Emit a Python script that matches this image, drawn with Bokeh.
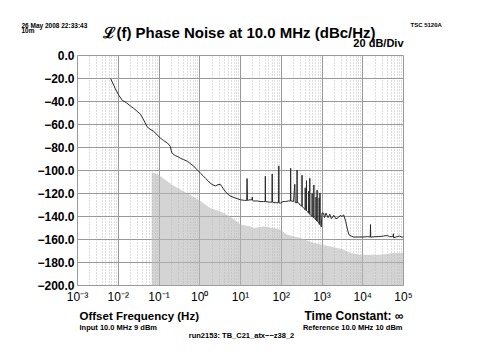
from bokeh.plotting import figure
from bokeh.models import FixedTicker, CustomJSTickFormatter, Range1d
from bokeh.layouts import column
from bokeh.core.properties import value
from bokeh.embed import file_html
from bokeh.resources import INLINE

# ---------------- data ----------------
x_ticks = [1e-3, 1e-2, 1e-1, 1e0, 1e1, 1e2, 1e3, 1e4, 1e5]
x_exps = [-3, -2, -1, 0, 1, 2, 3, 4, 5]
x_labels = ["10⁻³", "10⁻²", "10⁻¹", "10⁰", "10¹", "10²", "10³", "10⁴", "10⁵"]
y_ticks = [0, -20, -40, -60, -80, -100, -120, -140, -160, -180, -200]
y_labels = ["0.0", "−20.0", "−40.0", "−60.0", "−80.0", "−100.0", "−120.0",
            "−140.0", "−160.0", "−180.0", "−200.0"]

noise_f = [0.0065, 0.0085, 0.0105, 0.0126, 0.0158, 0.02, 0.024, 0.03, 0.035, 0.042,
           0.051, 0.06, 0.074, 0.09, 0.11, 0.13, 0.16, 0.19, 0.2, 0.21,
           0.25, 0.29, 0.34, 0.4, 0.5, 0.59, 0.7, 0.79, 0.9, 1.05,
           1.2, 1.4, 1.6, 1.8, 2.1, 2.45, 2.8, 3.2, 3.5, 3.8,
           4.2, 4.7, 5.5, 6.9, 8.3, 10, 12.6, 14.2, 14.5, 14.8,
           17, 19.2, 19.5, 19.8, 21, 26, 30, 37, 40.3, 40.7,
           41.2, 50, 59, 60, 61, 71, 86, 87, 88, 95,
           110, 126, 150, 168, 170, 172, 182, 200, 215, 220,
           243, 245, 247, 263, 290, 322, 324, 326, 360, 385,
           388, 391, 415, 417, 419, 447, 470, 473, 476, 499,
           501, 503, 537, 570, 573, 576, 629, 631, 633, 676,
           710, 713, 716, 757, 759, 761, 813, 850, 853, 856,
           889, 891, 893, 933, 960, 1000, 1096, 1150, 1250, 1413,
           1550, 1700, 1950, 2200, 2512, 2800, 3100, 3388, 3800, 4200,
           4571, 5200, 6026, 8000, 10700, 13000, 15300, 15500, 15700, 20000,
           25000, 32000, 40000, 45000, 50000, 56000, 56500, 57000, 70000, 80000,
           93000, 100000]
noise_db = [-20, -29, -35, -39, -41, -44, -46, -49, -51, -56,
            -62, -64, -66, -69, -72, -74, -76, -79, -83, -85,
            -87, -88, -89.5, -90.5, -92, -94, -96, -98, -100, -102.5,
            -104.5, -107, -109, -111, -112.5, -113.4, -112.3, -112, -114, -116,
            -118, -120, -122, -123.5, -124.5, -125.5, -126, -126, -107, -126,
            -125.5, -125.5, -123, -126, -126.5, -126.5, -127, -127, -127, -105,
            -127, -127.5, -127.5, -103, -127.5, -128, -128, -96, -128, -128.4,
            -127, -127, -126.5, -126.5, -98, -126.5, -126.5, -127, -112, -128,
            -128, -99.6, -128, -128, -130, -131, -104, -131, -133, -134,
            -115, -134, -135, -108.8, -135, -136, -137, -118, -137, -138,
            -106.8, -138, -139, -140, -120, -140, -141, -112.6, -141, -142,
            -143, -123, -143, -144, -117, -144, -145, -146, -124, -146,
            -147, -119.7, -147, -148, -149, -137, -137, -141, -137, -141,
            -138, -142, -139, -142, -141, -139, -140, -138.5, -144, -151,
            -155.8, -157, -157.9, -157.8, -157.8, -157.5, -157.8, -147, -158, -157.5,
            -157.5, -157, -156.5, -157.5, -157.5, -157, -155, -158.5, -157.5, -157,
            -158, -157.5]

floor_f = [0.066, 0.1, 0.2, 0.5, 1.0, 1.8, 3.2, 5.6, 10, 17.8, 21.4, 37, 66, 95,
           141, 295, 631, 1622, 3388, 5012, 8710, 27500, 57500, 100000]
floor_db = [-101.5, -104, -112, -120, -126, -132.7, -135.6, -140, -147, -148.6, -150,
            -148.6, -150, -151.5, -155.8, -158.7, -163, -166, -168.8, -171.7, -173.2,
            -173.2, -171.7, -171.7]

W = 472
FONT = value("Liberation Sans")


def text_strip(y_top, y_bottom):
    f = figure(width=W, height=y_bottom - y_top, x_range=Range1d(0, W),
               y_range=Range1d(y_bottom, y_top), output_backend="svg",
               toolbar_location=None, title=None, min_border=0,
               x_axis_type=None, y_axis_type=None)
    f.frame_align = False
    f.outline_line_color = None
    f.background_fill_color = "white"
    f.border_fill_color = "white"
    f.xgrid.visible = False
    f.ygrid.visible = False
    return f


def add_text(f, X, Y, text, size, align="left", style="bold"):
    f.text(x=[X], y=[Y], text=[text], text_font=FONT, text_font_size=size,
           text_font_style=style, text_align=align, text_baseline="alphabetic",
           text_color="black")


# ---------------- top strip ----------------
top = text_strip(0, 47)
add_text(top, 21, 25, "26 May 2008 22:33:43", "6.5px")
add_text(top, 21, 30, "10m", "6.5px")
add_text(top, 239, 32, "ℒ(f) Phase Noise at 10.0 MHz (dBc/Hz)", "15px", align="center")
add_text(top, 410, 24, "TSC 5120A", "6px")
add_text(top, 403, 42, "20 dB/Div", "11px", align="right")

# ---------------- chart ----------------
p = figure(width=W, height=259, x_axis_type="log",
           x_range=Range1d(1e-3, 1e5), y_range=Range1d(-200, 0),
           output_backend="svg", toolbar_location=None, title=None,
           min_border_left=77, min_border_right=69,
           min_border_top=8, min_border_bottom=20)
p.frame_align = False
p.background_fill_color = "white"
p.border_fill_color = "white"
p.outline_line_color = "#999999"

minor = [k * 10.0 ** d for d in range(-3, 5) for k in range(2, 10)]
p.xaxis.ticker = FixedTicker(ticks=x_ticks, minor_ticks=minor)
p.yaxis.ticker = FixedTicker(ticks=y_ticks)
p.yaxis.major_label_overrides = dict(zip(y_ticks, y_labels))
p.xaxis.formatter = CustomJSTickFormatter(
    args=dict(exps=x_exps, labels=x_labels),
    code="const e = Math.round(Math.log10(tick)); const i = exps.indexOf(e); return i >= 0 ? labels[i] : '';")

for ax in (p.xaxis[0], p.yaxis[0]):
    ax.axis_line_color = None
    ax.major_tick_line_color = None
    ax.minor_tick_line_color = None
    ax.major_tick_out = 0
    ax.major_tick_in = 0
    ax.minor_tick_out = 0
    ax.minor_tick_in = 0
    ax.major_label_text_font = "Liberation Sans"
    ax.major_label_text_color = "black"
p.yaxis.major_label_standoff = 3
p.xaxis.major_label_standoff = 4
p.yaxis.major_label_text_font_size = "12px"
p.yaxis.major_label_text_font_style = "bold"
p.xaxis.major_label_text_font_size = "12px"
p.xaxis.major_label_text_font_style = "normal"

p.xgrid.grid_line_color = "#999999"
p.xgrid.minor_grid_line_color = "#bdbdbd"
p.xgrid.minor_grid_line_dash = "1 2"
p.ygrid.grid_line_color = "#999999"

p.varea(x=floor_f, y1=-200, y2=floor_db, fill_color="#b8b8b8", fill_alpha=0.6)
p.line(noise_f, noise_db, line_color="#2a2a2a", line_width=1)

# ---------------- bottom strip ----------------
bot = text_strip(306, 352)
add_text(bot, 79, 315, "Offset Frequency (Hz)", "11.5px")
add_text(bot, 403, 315, "Time Constant: ∞", "12px", align="right")
add_text(bot, 79, 327, "Input 10.0 MHz 9 dBm", "7.5px")
add_text(bot, 402, 327, "Reference 10.0 MHz 10 dBm", "7.5px", align="right")
add_text(bot, 241, 335, "run2153: TB_C21_atx−−z38_2", "7.5px", align="center")

layout = column(top, p, bot, spacing=0)
open("out.html", "w").write(file_html(layout, INLINE))
